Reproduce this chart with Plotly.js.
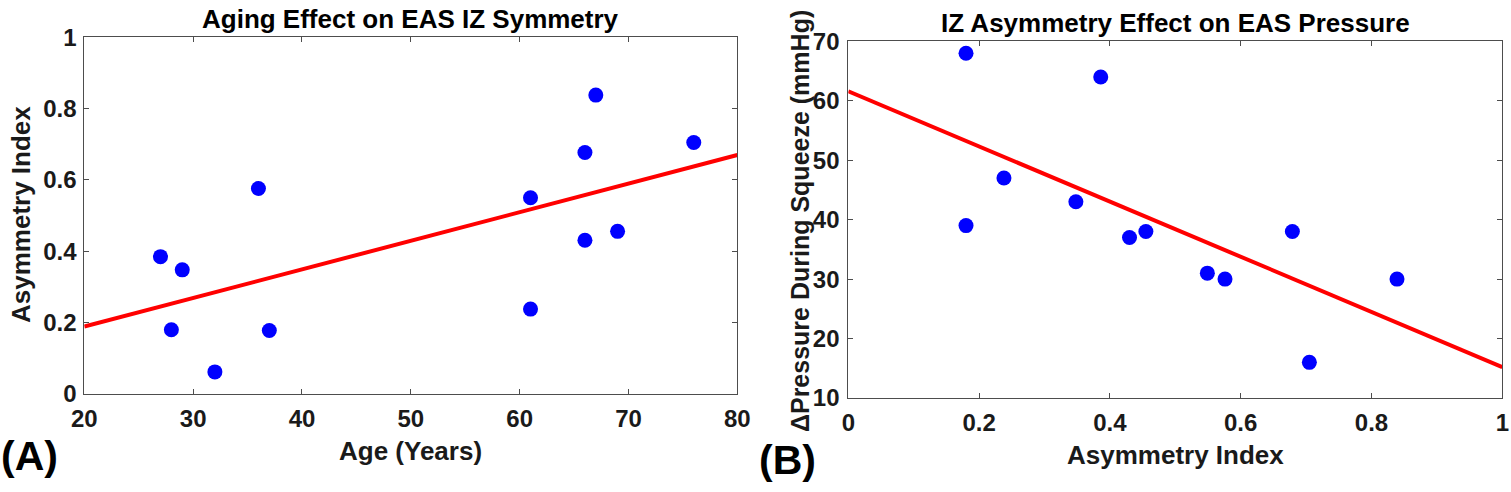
<!DOCTYPE html>
<html>
<head>
<meta charset="utf-8">
<script src="https://cdn.plot.ly/plotly-3.0.1.min.js"></script>
<style>html,body{margin:0;padding:0;background:#fff;}#chart{width:1511px;height:492px;}</style>
</head>
<body>
<div id="chart"></div>
<script>
// Panel A: Age vs Asymmetry Index
const ageYears = [27, 28, 29, 32, 36, 37, 61, 61, 66, 66, 67, 69, 76];
const asymIndexA = [0.385, 0.180, 0.348, 0.062, 0.576, 0.178, 0.550, 0.238, 0.677, 0.431, 0.838, 0.456, 0.705];
const fitAgeX = [20, 80];
const fitAgeY = [0.189, 0.670];

// Panel B: Asymmetry Index vs ΔPressure
const asymIndexB = [0.180, 0.180, 0.238, 0.348, 0.386, 0.430, 0.455, 0.549, 0.576, 0.679, 0.705, 0.839];
const pressureB = [68, 39, 47, 43, 64, 37, 38, 31, 30, 38, 16, 30];
const fitAsymX = [0, 1];
const fitPressY = [61.6, 15.2];

const xTicksA = [20, 30, 40, 50, 60, 70, 80];
const yTicksA = [0, 0.2, 0.4, 0.6, 0.8, 1];
const yTickTextA = ['0', '0.2', '0.4', '0.6', '0.8', '1'];
const xTicksB = [0, 0.2, 0.4, 0.6, 0.8, 1];
const xTickTextB = ['0', '0.2', '0.4', '0.6', '0.8', '1'];
const yTicksB = [10, 20, 30, 40, 50, 60, 70];

const W = 1511, H = 492;
const FONT = 'Liberation Sans, Arial, sans-serif';
const px = v => v / W;
const py = v => 1 - v / H;

const markerStyle = {color: '#0000ff', size: 15, line: {width: 0}};
const lineStyle = {color: '#ff0000', width: 4};

const traces = [
  {x: fitAgeX, y: fitAgeY, type: 'scatter', mode: 'lines', line: lineStyle, xaxis: 'x', yaxis: 'y', hoverinfo: 'skip'},
  {x: ageYears, y: asymIndexA, type: 'scatter', mode: 'markers', marker: markerStyle, xaxis: 'x', yaxis: 'y'},
  {x: fitAsymX, y: fitPressY, type: 'scatter', mode: 'lines', line: lineStyle, xaxis: 'x2', yaxis: 'y2', hoverinfo: 'skip'},
  {x: asymIndexB, y: pressureB, type: 'scatter', mode: 'markers', marker: markerStyle, xaxis: 'x2', yaxis: 'y2'}
];

const tickFont = {family: FONT, size: 24, color: '#1a1a1a', weight: 'bold'};
const axisCommon = {
  showline: true, linecolor: '#4d4d4d', linewidth: 1, mirror: 'ticks',
  ticks: 'inside', ticklen: 5, tickcolor: '#4d4d4d', tickwidth: 1,
  showgrid: false, zeroline: false, tickfont: tickFont, fixedrange: true
};

const layout = {
  width: W, height: H,
  margin: {l: 0, r: 0, t: 0, b: 0},
  paper_bgcolor: '#ffffff', plot_bgcolor: '#ffffff',
  showlegend: false,
  xaxis: Object.assign({}, axisCommon, {domain: [px(84.3), px(737.3)], range: [20, 80], tickvals: xTicksA, anchor: 'y', ticklabelstandoff: 3}),
  yaxis: Object.assign({}, axisCommon, {domain: [1 - 394 / H, 1 - 37.3 / H], range: [0, 1], tickvals: yTicksA, ticktext: yTickTextA, anchor: 'x', ticklabelstandoff: 2}),
  xaxis2: Object.assign({}, axisCommon, {domain: [px(848.3), px(1502.3)], range: [0, 1], tickvals: xTicksB, ticktext: xTickTextB, anchor: 'y2', ticklabelstandoff: 3}),
  yaxis2: Object.assign({}, axisCommon, {domain: [1 - 398 / H, 1 - 41.3 / H], range: [10, 70], tickvals: yTicksB, anchor: 'x2', ticklabelstandoff: 3}),
  annotations: [
    {text: 'Aging Effect on EAS IZ Symmetry', x: px(410.5), y: py(19), xref: 'paper', yref: 'paper', xanchor: 'center', yanchor: 'middle', showarrow: false, font: {family: FONT, size: 26, color: '#000', weight: 'bold'}},
    {text: 'IZ Asymmetry Effect on EAS Pressure', x: px(1175.5), y: py(23), xref: 'paper', yref: 'paper', xanchor: 'center', yanchor: 'middle', showarrow: false, font: {family: FONT, size: 26, color: '#000', weight: 'bold'}},
    {text: 'Age (Years)', x: px(410.5), y: py(451), xref: 'paper', yref: 'paper', xanchor: 'center', yanchor: 'middle', showarrow: false, font: {family: FONT, size: 26, color: '#1a1a1a', weight: 'bold'}},
    {text: 'Asymmetry Index', x: px(1175.5), y: py(455), xref: 'paper', yref: 'paper', xanchor: 'center', yanchor: 'middle', showarrow: false, font: {family: FONT, size: 26, color: '#1a1a1a', weight: 'bold'}},
    {text: 'Asymmetry Index', x: px(21), y: py(215), xref: 'paper', yref: 'paper', xanchor: 'center', yanchor: 'middle', textangle: -90, showarrow: false, font: {family: FONT, size: 26, color: '#1a1a1a', weight: 'bold'}},
    {text: 'ΔPressure During Squeeze (mmHg)', x: px(800), y: py(221), xref: 'paper', yref: 'paper', xanchor: 'center', yanchor: 'middle', textangle: -90, showarrow: false, font: {family: FONT, size: 25, color: '#1a1a1a', weight: 'bold'}},
    {text: '(A)', x: px(29), y: py(456), xref: 'paper', yref: 'paper', xanchor: 'center', yanchor: 'middle', showarrow: false, font: {family: FONT, size: 41, color: '#000', weight: 'bold'}},
    {text: '(B)', x: px(787), y: py(460), xref: 'paper', yref: 'paper', xanchor: 'center', yanchor: 'middle', showarrow: false, font: {family: FONT, size: 41, color: '#000', weight: 'bold'}}
  ]
};

Plotly.newPlot('chart', traces, layout, {displayModeBar: false, staticPlot: true});
</script>
</body>
</html>
